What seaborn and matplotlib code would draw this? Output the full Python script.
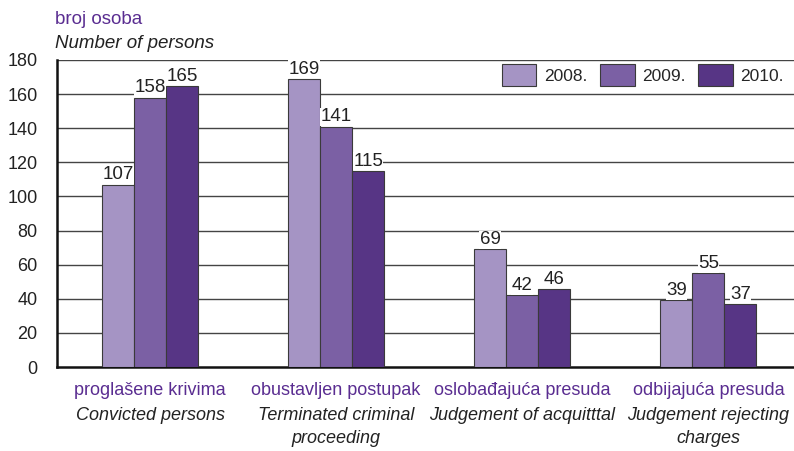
import matplotlib
matplotlib.use("Agg")
import matplotlib.pyplot as plt
import matplotlib.transforms as mtransforms
import seaborn as sns
import pandas as pd

categories_hr = ["proglašene krivima", "obustavljen postupak", "oslobađajuća presuda", "odbijajuća presuda"]
categories_en = ["Convicted persons", "Terminated criminal\nproceeding", "Judgement of acquitttal", "Judgement rejecting\ncharges"]
years = ["2008.", "2009.", "2010."]
values_2008 = [107, 169, 69, 39]
values_2009 = [158, 141, 42, 55]
values_2010 = [165, 115, 46, 37]
yticks = [0, 20, 40, 60, 80, 100, 120, 140, 160, 180]

sns.set_theme(style="white")
plt.rcParams["font.family"] = ["Liberation Sans", "DejaVu Sans"]

rows = []
for i, c in enumerate(categories_hr):
    for y, vals in zip(years, [values_2008, values_2009, values_2010]):
        rows.append({"cat": c, "year": y, "val": vals[i]})
df = pd.DataFrame(rows)

colors = ["#a594c4", "#7b60a4", "#573585"]
purple = "#5a2d91"

fig = plt.figure(figsize=(7.94, 4.51), dpi=100)
ax = fig.add_axes([57 / 794, 84 / 451, 1 - 57 / 794, (367 - 60) / 451])

sns.barplot(data=df, x="cat", y="val", hue="year", palette=colors, width=0.516, saturation=1,
            gap=0, edgecolor="#3a3a3a", linewidth=0.8, ax=ax, zorder=3)

ax.set_ylim(0, 180)
ax.set_xlim(-0.5, 3.46)
ax.set_yticks(yticks)
ax.set_yticklabels([str(t) for t in yticks], fontsize=13, color="#222222")
ax.tick_params(axis="y", length=0, pad=14)
ax.set_xticks(range(len(categories_hr)))
ax.set_xticklabels([])
ax.tick_params(axis="x", length=0)
ax.set_xlabel("")
ax.set_ylabel("")
for t in yticks[1:]:
    ax.axhline(t, color="#444444", linewidth=1.0, zorder=1)
for s in ["top", "right"]:
    ax.spines[s].set_visible(False)
ax.spines["left"].set_color("#111111")
ax.spines["left"].set_linewidth(1.8)
ax.spines["bottom"].set_color("#111111")
ax.spines["bottom"].set_linewidth(1.8)

for cont in ax.containers:
    for bar in cont:
        h = bar.get_height()
        ax.text(bar.get_x() + bar.get_width() / 2, h + 0.6, f"{int(h)}", ha="center", va="bottom",
                fontsize=13.5, color="#222222", zorder=4,
                bbox=dict(facecolor="white", edgecolor="none", pad=0.3))

trans = mtransforms.blended_transform_factory(ax.transData, ax.transAxes)
for i, (hr, en) in enumerate(zip(categories_hr, categories_en)):
    ax.text(i, -0.05, hr, transform=trans, ha="center", va="top", fontsize=13, color=purple)
    ax.text(i, -0.13, en, transform=trans, ha="center", va="top", fontsize=13, color="#222222",
            style="italic", linespacing=1.5)

fig.text(55 / 794, 1 - 20 / 451, "broj osoba", fontsize=13.5, color=purple, va="center", ha="left")
fig.text(55 / 794, 1 - 44 / 451, "Number of persons", fontsize=13.5, color="#222222", va="center",
         ha="left", style="italic")

leg = ax.legend(loc="center right", bbox_to_anchor=(1.003, 0.951), ncol=3, frameon=False, fontsize=12.5,
                handlelength=2.0, handleheight=1.55, columnspacing=0.7, handletextpad=0.45,
                borderpad=0.2)
for p in leg.get_patches():
    p.set_edgecolor("#3a3a3a")

fig.savefig("out.png", dpi=100)
